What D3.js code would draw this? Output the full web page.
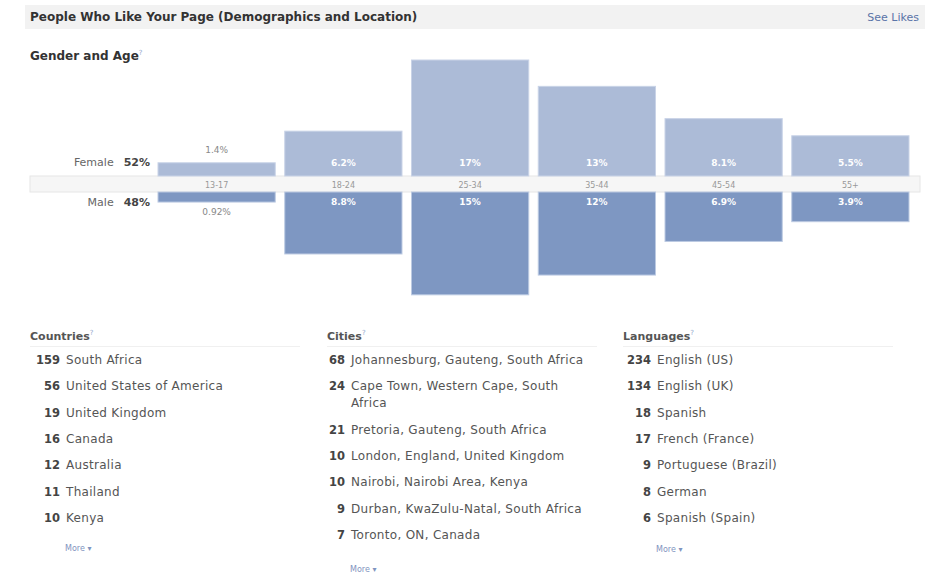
<!DOCTYPE html>
<html>
<head>
<meta charset="utf-8">
<script src="https://cdn.jsdelivr.net/npm/d3@7"></script>
<style>
body { margin: 0; background: #fff; }
svg { display: block; font-family: "DejaVu Sans", sans-serif; }
</style>
</head>
<body>
<script>
var ages = ['13-17', '18-24', '25-34', '35-44', '45-54', '55+'];
var female = [1.4, 6.2, 17, 13, 8.1, 5.5];
var male = [0.92, 8.8, 15, 12, 6.9, 3.9];
var femaleLabels = ['1.4%', '6.2%', '17%', '13%', '8.1%', '5.5%'];
var maleLabels = ['0.92%', '8.8%', '15%', '12%', '6.9%', '3.9%'];

var countryNames = ['South Africa', 'United States of America', 'United Kingdom', 'Canada', 'Australia', 'Thailand', 'Kenya'];
var countryCounts = [159, 56, 19, 16, 12, 11, 10];
var cityNames = [['Johannesburg, Gauteng, South Africa'], ['Cape Town, Western Cape, South', 'Africa'], ['Pretoria, Gauteng, South Africa'],
    ['London, England, United Kingdom'], ['Nairobi, Nairobi Area, Kenya'], ['Durban, KwaZulu-Natal, South Africa'], ['Toronto, ON, Canada']];
var cityCounts = [68, 24, 21, 10, 10, 9, 7];
var languageNames = ['English (US)', 'English (UK)', 'Spanish', 'French (France)', 'Portuguese (Brazil)', 'German', 'Spanish (Spain)'];
var languageCounts = [234, 134, 18, 17, 9, 8, 6];

var svg = d3.select('body').append('svg').attr('width', 925).attr('height', 574);

// header bar
svg.append('rect').attr('x', 25).attr('y', 5).attr('width', 900).attr('height', 24).attr('fill', '#f2f2f2');
svg.append('text').attr('x', 30).attr('y', 21).attr('font-size', 12).attr('font-weight', 'bold').attr('fill', '#333')
    .text('People Who Like Your Page (Demographics and Location)');
svg.append('text').attr('x', 919).attr('y', 21).attr('font-size', 11).attr('text-anchor', 'end').attr('fill', '#5a74a8')
    .text('See Likes');

var t = svg.append('text').attr('x', 30).attr('y', 60).attr('font-size', 12).attr('font-weight', 'bold').attr('fill', '#333');
t.append('tspan').text('Gender and Age');
t.append('tspan').attr('dy', -5).attr('font-size', 7).attr('font-weight', 'normal').attr('fill', '#8fa6cc').text('?');

// chart
var x = d3.scaleBand().domain(ages).range([158, 909]).paddingInner(0.075).paddingOuter(0);
var h = d3.scaleLinear().domain([0, 17]).range([4, 116]);
var top0 = 176, bot0 = 192;

svg.append('rect').attr('x', 30).attr('y', top0).attr('width', 890).attr('height', bot0 - top0)
    .attr('fill', '#f6f6f6').attr('stroke', '#e6e6e6');

svg.selectAll('.f').data(ages).enter().append('rect')
    .attr('x', function(d) { return x(d); })
    .attr('y', function(d, i) { return top0 - h(female[i]); })
    .attr('width', x.bandwidth())
    .attr('height', function(d, i) { return h(female[i]); })
    .attr('fill', '#acbbd7').attr('stroke', '#c9d3e7').attr('stroke-width', 1);

svg.selectAll('.m').data(ages).enter().append('rect')
    .attr('x', function(d) { return x(d); })
    .attr('y', bot0)
    .attr('width', x.bandwidth())
    .attr('height', function(d, i) { return h(male[i]); })
    .attr('fill', '#7e97c2').attr('stroke', '#bccae2').attr('stroke-width', 1);

svg.selectAll('.age').data(ages).enter().append('text')
    .attr('x', function(d) { return x(d) + x.bandwidth() / 2; })
    .attr('y', 188).attr('text-anchor', 'middle').attr('font-size', 8).attr('fill', '#999')
    .text(function(d) { return d; });

svg.selectAll('.fl').data(ages).enter().append('text')
    .attr('x', function(d) { return x(d) + x.bandwidth() / 2; })
    .attr('y', function(d, i) { return h(female[i]) < 25 ? top0 - h(female[i]) - 10 : 166; })
    .attr('text-anchor', 'middle').attr('font-size', 9)
    .attr('font-weight', function(d, i) { return h(female[i]) < 25 ? 'normal' : 'bold'; })
    .attr('fill', function(d, i) { return h(female[i]) < 25 ? '#888' : '#fff'; })
    .text(function(d, i) { return femaleLabels[i]; });

svg.selectAll('.ml').data(ages).enter().append('text')
    .attr('x', function(d) { return x(d) + x.bandwidth() / 2; })
    .attr('y', function(d, i) { return h(male[i]) < 25 ? bot0 + h(male[i]) + 13 : 205; })
    .attr('text-anchor', 'middle').attr('font-size', 9)
    .attr('font-weight', function(d, i) { return h(male[i]) < 25 ? 'normal' : 'bold'; })
    .attr('fill', function(d, i) { return h(male[i]) < 25 ? '#888' : '#fff'; })
    .text(function(d, i) { return maleLabels[i]; });

function sexLabel(y, name, pct) {
    var s = svg.append('text').attr('x', 150).attr('y', y).attr('text-anchor', 'end').attr('font-size', 11).attr('fill', '#666');
    s.append('tspan').text(name);
    s.append('tspan').attr('dx', 10).attr('font-weight', 'bold').attr('fill', '#444').text(pct);
}
sexLabel(166, 'Female', '52%');
sexLabel(206, 'Male', '48%');

// lists
function list(x0, title, counts, names, moreY, numW) {
    var g = svg.append('g');
    var tt = g.append('text').attr('x', x0).attr('y', 340).attr('font-size', 11).attr('font-weight', 'bold').attr('fill', '#555');
    tt.append('tspan').text(title);
    tt.append('tspan').attr('dy', -5).attr('font-size', 7).attr('font-weight', 'normal').attr('fill', '#8fa6cc').text('?');
    g.append('line').attr('x1', x0).attr('x2', x0 + 270).attr('y1', 346.5).attr('y2', 346.5).attr('stroke', '#f0f0f0');
    var y = 364;
    counts.forEach(function(c, i) {
        g.append('text').attr('x', x0 + numW).attr('y', y).attr('text-anchor', 'end').attr('font-size', 11.5)
            .attr('font-weight', 'bold').attr('fill', '#444').text(c);
        var lines = [].concat(names[i]);
        lines.forEach(function(l, j) {
            g.append('text').attr('x', x0 + numW + 6).attr('y', y + j * 17).attr('font-size', 12)
                .attr('letter-spacing', 0.3).attr('fill', '#555').text(l);
        });
        y += 26.3 + (lines.length - 1) * 17;
    });
    g.append('text').attr('x', x0 + numW + 5).attr('y', moreY).attr('font-size', 8).attr('fill', '#7f94c0').text('More \u25be');
}
list(30, 'Countries', countryCounts, countryNames, 551, 30);
list(327, 'Cities', cityCounts, cityNames, 572, 18);
list(623, 'Languages', languageCounts, languageNames, 552, 28);
</script>
</body>
</html>
